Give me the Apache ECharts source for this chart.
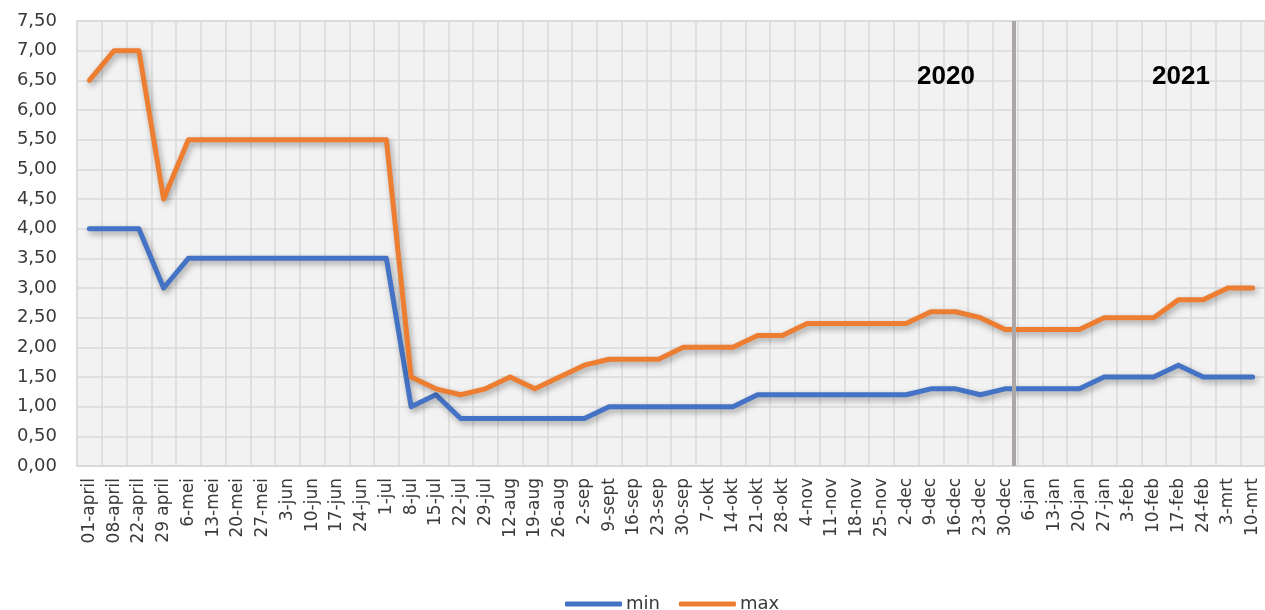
<!DOCTYPE html>
<html>
<head>
<meta charset="utf-8">
<script src="https://cdn.jsdelivr.net/npm/echarts@6/dist/echarts.min.js"></script>
<style>
html,body{margin:0;padding:0;background:#fff;}
#c{width:1265px;height:610px;}
</style>
</head>
<body>
<div id="c"></div>
<script>
const categories = ['01-april','08-april','22-april','29 april','6-mei','13-mei','20-mei','27-mei','3-jun','10-jun','17-jun','24-jun','1-jul','8-jul','15-jul','22-jul','29-jul','12-aug','19-aug','26-aug','2-sep','9-sept','16-sep','23-sep','30-sep','7-okt','14-okt','21-okt','28-okt','4-nov','11-nov','18-nov','25-nov','2-dec','9-dec','16-dec','23-dec','30-dec','6-jan','13-jan','20-jan','27-jan','3-feb','10-feb','17-feb','24-feb','3-mrt','10-mrt'];
const minValues = [4.0,4.0,4.0,3.0,3.5,3.5,3.5,3.5,3.5,3.5,3.5,3.5,3.5,1.0,1.2,0.8,0.8,0.8,0.8,0.8,0.8,1.0,1.0,1.0,1.0,1.0,1.0,1.2,1.2,1.2,1.2,1.2,1.2,1.2,1.3,1.3,1.2,1.3,1.3,1.3,1.3,1.5,1.5,1.5,1.7,1.5,1.5,1.5];
const maxValues = [6.5,7.0,7.0,4.5,5.5,5.5,5.5,5.5,5.5,5.5,5.5,5.5,5.5,1.5,1.3,1.2,1.3,1.5,1.3,1.5,1.7,1.8,1.8,1.8,2.0,2.0,2.0,2.2,2.2,2.4,2.4,2.4,2.4,2.4,2.6,2.6,2.5,2.3,2.3,2.3,2.3,2.5,2.5,2.5,2.8,2.8,3.0,3.0];
const seriesNames = ['min','max'];
const yearLabels = ['2020','2021'];
const yearSplitPosition = 37.85; // between 30-dec and 6-jan, in category units

const chart = echarts.init(document.getElementById('c'), null, {renderer:'canvas'});
const shadow = {shadowColor:'rgba(0,0,0,0.35)', shadowBlur:6, shadowOffsetX:2, shadowOffsetY:3};
const option = {
  animation:false,
  backgroundColor:'#ffffff',
  grid:{left:77,right:-4,top:21,bottom:144,show:true,backgroundColor:'#f2f2f2',borderColor:'#d9d9d9',borderWidth:1.5},
  legend:{
    data:seriesNames, left:560, top:590, icon:'roundRect', itemWidth:57, itemHeight:5, itemGap:19,
    textStyle:{fontFamily:'DejaVu Sans', fontSize:18, color:'#3a3a3a', lineHeight:18, padding:[0,0,0,-1]}
  },
  xAxis:[{
    type:'category', data:categories, boundaryGap:true,
    axisLine:{show:true, lineStyle:{color:'#d9d9d9', width:1.5}},
    axisTick:{show:false},
    axisLabel:{interval:0, rotate:90, margin:12, fontFamily:'DejaVu Sans', fontSize:17, color:'#3a3a3a'},
    splitLine:{show:true, interval:0, lineStyle:{color:'#d9d9d9', width:1.5}}
  },{
    type:'value', min:0, max:categories.length, show:false, position:'bottom'
  }],
  yAxis:{
    type:'value', min:0, max:7.5, interval:0.5,
    axisLine:{show:false}, axisTick:{show:false},
    axisLabel:{margin:20, fontFamily:'DejaVu Sans', fontSize:18, color:'#3a3a3a', formatter:v=>v.toFixed(2).replace('.',',')},
    splitLine:{show:true, lineStyle:{color:'#d9d9d9', width:1.5}}
  },
  series:[
    {name:seriesNames[0], type:'line', data:minValues, showSymbol:false, symbol:'none', color:'#4472c4',
     lineStyle:Object.assign({width:5, color:'#4472c4', join:'round', cap:'round'}, shadow), z:3},
    {name:seriesNames[1], type:'line', data:maxValues, showSymbol:false, symbol:'none', color:'#ed7d31',
     lineStyle:Object.assign({width:5, color:'#ed7d31', join:'round', cap:'round'}, shadow), z:3},
    {name:'split', type:'line', xAxisIndex:1, data:[], z:2,
     markLine:{silent:true, symbol:'none', label:{show:false}, animation:false,
       lineStyle:{color:'#aba7a7', width:4, type:'solid'},
       data:[{xAxis:yearSplitPosition}]}}
  ],
  graphic:[
    {type:'text', x:946, y:77, style:{text:yearLabels[0], font:'bold 26px "Liberation Sans"', fill:'#000', align:'center', verticalAlign:'middle'}, z:10},
    {type:'text', x:1181, y:77, style:{text:yearLabels[1], font:'bold 26px "Liberation Sans"', fill:'#000', align:'center', verticalAlign:'middle'}, z:10}
  ]
};
chart.setOption(option);
</script>
</body>
</html>
